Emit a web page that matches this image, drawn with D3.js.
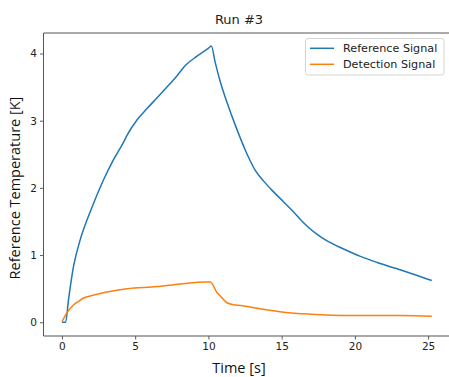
<!DOCTYPE html>
<html>
<head>
<meta charset="utf-8">
<script src="https://cdnjs.cloudflare.com/ajax/libs/d3/7.8.5/d3.min.js"></script>
<style>
  body { margin: 0; background: #fff; }
  svg { display: block; }
</style>
</head>
<body>
<svg class="chart"></svg>
<script>
// values
var refT = [0, 0.25, 0.45, 0.79, 1.25, 1.71, 2.16, 2.84, 3.52, 4.21, 4.44, 5.12, 5.81, 6.49, 7.17, 7.86, 8.42, 9.22, 10.01, 10.2,
            10.47, 10.81, 11.16, 11.5, 11.84, 12.18, 12.52, 12.86, 13.2, 13.77, 14.45, 15.14, 15.82, 16.28, 16.84, 17.4,
            18.1, 19.23, 20.38, 21.52, 22.65, 23.79, 25.25];
var refV = [0, 0, 0.34, 0.83, 1.23, 1.52, 1.77, 2.12, 2.42, 2.68, 2.78, 3.01, 3.18, 3.34, 3.50, 3.67, 3.82, 3.96, 4.08, 4.11,
            3.86, 3.58, 3.34, 3.13, 2.93, 2.74, 2.56, 2.40, 2.26, 2.10, 1.94, 1.79, 1.64, 1.53, 1.41, 1.31,
            1.21, 1.09, 0.98, 0.89, 0.81, 0.73, 0.62];

var detT = [0, 0.34, 0.8, 1.14, 1.48, 1.93, 3.07, 4.44, 6.49, 8.08, 9.9, 10.13, 10.59, 10.81, 11.27, 11.72, 12.18,
            13.55, 15.14, 16.96, 19.7, 23.1, 25.25];
var detV = [0.01, 0.14, 0.26, 0.31, 0.36, 0.39, 0.45, 0.50, 0.53, 0.57, 0.60, 0.60, 0.44, 0.39, 0.29, 0.26, 0.25,
            0.20, 0.15, 0.12, 0.10, 0.10, 0.09];

var xTicks = [0, 5, 10, 15, 20, 25];
var yTicks = [0, 1, 2, 3, 4];
var seriesNames = ["Reference Signal", "Detection Signal"];

var width = 449, height = 377;
var plotL = 43.5, plotR = 449.5, plotT = 33, plotB = 336;

var svg = d3.select(".chart").attr("width", width).attr("height", height);

var x = d3.scaleLinear().domain([-1.26, 26.46]).range([plotL, plotR]);
var y = d3.scaleLinear().domain([-0.205, 4.305]).range([plotB, plotT]);

var series = [
  { name: seriesNames[0], color: "#1f77b4", pts: refT.map(function(t, i) { return [t, refV[i]]; }) },
  { name: seriesNames[1], color: "#ff7f0e", pts: detT.map(function(t, i) { return [t, detV[i]]; }) }
];

var line = d3.line()
    .x(function(d) { return x(d[0]); })
    .y(function(d) { return y(d[1]); })
    .curve(d3.curveMonotoneX);

svg.selectAll(".series")
    .data(series)
  .enter().append("path")
    .attr("class", "series")
    .attr("d", function(d) { return line(d.pts); })
    .attr("fill", "none")
    .attr("stroke", function(d) { return d.color; })
    .attr("stroke-width", 1.5)
    .attr("stroke-linejoin", "round");

// axes
var xAxis = svg.append("g")
    .attr("transform", "translate(0," + plotB + ")")
    .call(d3.axisBottom(x).tickValues(xTicks).tickSize(3.5).tickPadding(3).tickFormat(d3.format("d")));
var yAxis = svg.append("g")
    .attr("transform", "translate(" + plotL + ",0)")
    .call(d3.axisLeft(y).tickValues(yTicks).tickSize(3.5).tickPadding(3).tickFormat(d3.format("d")));

[xAxis, yAxis].forEach(function(g) {
  g.select(".domain").remove();
  g.selectAll(".tick line").attr("stroke", "#333").attr("stroke-width", 0.8);
  g.selectAll(".tick text")
      .attr("fill", "#222")
      .style("font-family", "DejaVu Sans")
      .style("font-size", "10.5px");
});

// frame (right spine falls outside the picture)
svg.append("path")
    .attr("d", "M" + plotR + "," + plotT + "H" + plotL + "V" + plotB + "H" + plotR)
    .attr("fill", "none")
    .attr("stroke", "#555")
    .attr("stroke-width", 1);

// title and labels
svg.append("text")
    .attr("x", 239).attr("y", 24)
    .attr("text-anchor", "middle")
    .style("font-family", "DejaVu Sans").style("font-size", "13px")
    .attr("fill", "#222")
    .text("Run #3");

svg.append("text")
    .attr("x", 239).attr("y", 373)
    .attr("text-anchor", "middle")
    .style("font-family", "Open Sans").style("font-size", "14.5px")
    .attr("fill", "#111")
    .text("Time [s]");

svg.append("text")
    .attr("transform", "translate(19.5,188) rotate(-90)")
    .attr("text-anchor", "middle")
    .style("font-family", "Open Sans").style("font-size", "14.5px")
    .attr("fill", "#111")
    .text("Reference Temperature [K]");

// legend
var legend = svg.append("g");
legend.append("rect")
    .attr("x", 305.5).attr("y", 38.5)
    .attr("width", 138.5).attr("height", 36.5)
    .attr("rx", 2.5)
    .attr("fill", "#fff").attr("fill-opacity", 0.8)
    .attr("stroke", "#d5d5d5").attr("stroke-width", 1);

var item = legend.selectAll(".item")
    .data(series)
  .enter().append("g")
    .attr("class", "item")
    .attr("transform", function(d, i) { return "translate(0," + (48.3 + i * 16) + ")"; });

item.append("line")
    .attr("x1", 310).attr("x2", 334)
    .attr("stroke", function(d) { return d.color; })
    .attr("stroke-width", 1.5);

item.append("text")
    .attr("x", 343).attr("dy", "0.36em")
    .style("font-family", "DejaVu Sans").style("font-size", "11.2px")
    .attr("fill", "#222")
    .text(function(d) { return d.name; });
</script>
</body>
</html>
